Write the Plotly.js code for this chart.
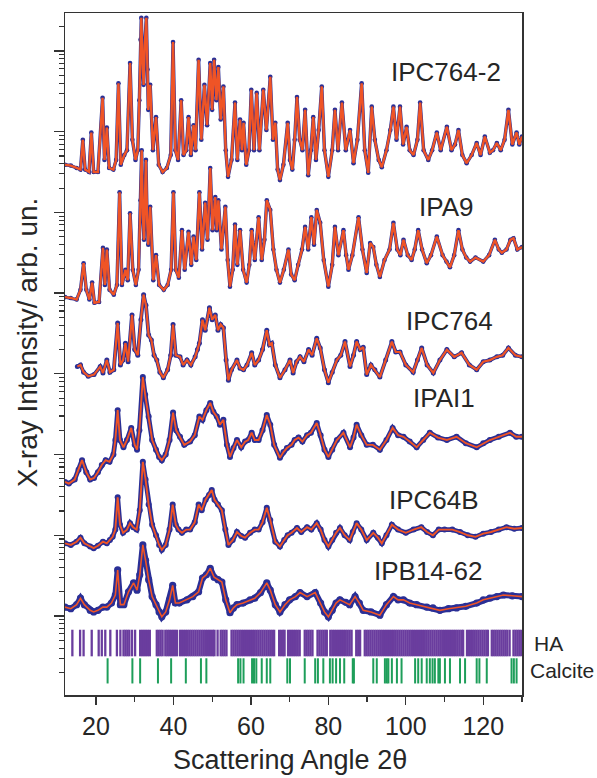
<!DOCTYPE html>
<html>
<head>
<meta charset="utf-8">
<script src="https://cdn.plot.ly/plotly-3.0.1.min.js"></script>
<style>html,body{margin:0;padding:0;background:#fff}#chart{width:597px;height:778px}</style>
</head>
<body>
<div id="chart"></div>
<script>
// Scattering angle 2θ (deg) and log10 intensity (arb. un.)
const ipc764_2_x = [12.0,13.5,15.0,16.0,16.6,17.2,18.2,18.8,19.4,20.5,21.7,22.2,22.8,23.4,24.5,25.2,25.8,26.4,27.3,28.0,28.8,29.4,30.2,30.8,31.2,31.5,31.7,32.0,32.3,32.6,33.0,33.3,33.5,34.0,34.7,35.5,36.2,37.2,38.3,39.3,39.9,40.5,41.2,42.0,42.6,43.3,43.9,44.5,45.2,45.7,46.5,47.2,48.0,48.7,49.5,50.0,50.5,51.1,51.6,52.2,52.9,53.5,54.1,55.0,55.9,56.5,57.2,57.7,58.1,58.8,59.5,60.1,60.8,61.5,62.2,63.2,64.0,65.0,65.7,66.3,66.9,67.5,68.4,69.5,70.1,70.7,71.3,71.9,72.6,73.3,74.0,74.8,75.5,76.1,76.8,77.5,78.3,79.0,80.0,81.0,81.7,82.5,83.5,84.5,85.6,86.5,87.5,88.6,89.4,90.3,91.2,92.0,93.0,93.8,95.0,96.0,96.8,97.6,98.5,99.3,100.2,101.0,102.0,103.0,103.7,104.6,105.8,106.8,108.0,109.0,110.6,111.8,112.7,113.6,114.6,115.7,117.0,118.3,119.3,120.4,121.7,122.5,123.5,124.5,125.5,126.5,127.5,128.6,129.3,130.0];
const ipc764_2_y = [5.59,5.58,5.55,5.53,5.90,5.53,5.50,5.99,5.50,5.50,6.42,5.65,6.05,5.55,5.53,5.65,6.60,5.59,5.71,5.77,6.85,5.90,5.65,5.77,6.39,7.14,7.41,6.89,6.58,7.07,7.41,6.77,6.27,6.58,5.77,6.18,5.59,5.50,5.55,5.71,7.11,5.77,5.65,6.39,5.71,5.77,6.18,5.71,6.08,5.77,6.89,5.90,6.58,6.08,6.85,6.27,6.89,6.39,6.80,6.15,6.56,5.77,5.44,5.65,6.36,5.65,6.15,5.77,6.11,5.59,5.77,6.52,5.77,6.48,5.77,6.52,6.02,6.68,5.90,6.11,5.53,5.40,5.59,6.11,5.65,5.53,5.90,6.43,5.90,5.77,6.27,5.46,5.77,6.18,5.65,6.02,6.56,5.77,5.44,5.77,6.27,5.77,6.36,5.77,6.02,5.61,5.90,6.60,5.77,5.49,6.31,5.90,5.65,5.56,5.77,6.02,6.31,5.90,6.31,5.84,6.06,5.77,5.71,5.90,6.36,5.77,5.65,5.77,5.99,5.77,6.06,5.77,5.84,6.02,5.71,5.61,5.71,5.86,5.71,5.94,5.74,5.77,5.86,5.77,5.90,6.27,5.84,5.99,5.84,5.94];

const ipa9_x = [12.0,13.5,15.0,16.0,16.8,17.5,18.3,19.0,19.6,20.8,21.8,22.3,22.8,23.5,24.6,25.4,26.1,26.7,27.6,28.2,28.8,29.5,30.3,31.0,31.5,31.8,32.1,32.4,32.7,32.9,33.2,33.5,34.0,34.8,35.5,36.3,37.5,38.5,39.4,40.0,40.6,41.4,42.2,42.9,43.9,44.6,45.2,45.9,46.7,47.4,48.2,48.8,49.5,50.1,50.8,51.2,51.6,52.4,53.4,54.0,54.6,55.3,55.9,56.5,57.2,58.0,58.9,59.6,60.2,61.0,62.0,62.8,63.5,64.1,65.0,65.8,66.6,67.5,68.5,69.7,70.4,71.3,72.2,73.2,74.0,74.8,75.6,76.3,77.0,77.9,78.8,80.0,81.0,81.7,82.6,83.9,84.6,85.2,86.2,87.8,88.8,89.9,90.8,91.6,92.4,93.3,94.5,95.8,96.8,97.8,98.6,99.4,100.5,101.5,102.3,103.2,104.2,105.4,106.5,108.0,109.5,110.5,111.4,112.5,113.6,114.6,115.6,116.6,118.0,120.0,121.5,123.0,124.0,124.8,126.0,127.0,127.8,128.8,130.0];
const ipa9_y = [3.95,3.94,3.92,4.04,4.37,4.04,3.92,4.13,3.88,3.89,4.56,4.10,4.54,4.04,3.98,4.10,5.25,4.10,4.29,4.16,4.99,4.29,4.10,4.29,5.15,5.77,4.97,4.66,5.27,5.65,4.91,4.60,5.07,4.16,4.47,4.10,4.04,4.10,4.29,5.25,4.29,4.19,4.78,4.29,4.76,4.35,4.70,4.41,5.25,4.54,5.12,4.66,5.55,4.78,5.19,4.78,5.15,4.54,5.07,4.41,4.08,4.29,4.85,4.35,4.78,4.29,4.13,4.35,4.78,4.41,4.94,4.41,4.66,5.15,5.03,4.54,4.29,4.13,4.29,4.54,4.23,4.16,4.35,4.54,4.82,4.54,4.94,4.60,5.03,4.87,4.41,4.08,4.35,4.82,4.47,4.78,4.47,4.29,4.47,4.94,4.54,4.25,4.62,4.57,4.35,4.20,4.41,4.54,4.87,4.54,4.47,4.66,4.47,4.41,4.54,4.78,4.54,4.37,4.47,4.70,4.47,4.39,4.32,4.47,4.78,4.54,4.44,4.39,4.44,4.39,4.47,4.66,4.54,4.50,4.54,4.66,4.68,4.54,4.57];

const ipc764_x = [15.2,16.0,16.8,18.0,19.5,21.1,21.8,22.8,23.6,24.6,25.6,26.3,27.0,27.6,28.3,29.3,30.0,30.8,31.6,32.3,32.9,33.6,34.3,35.0,35.7,36.5,37.4,38.5,39.3,39.9,40.6,41.7,42.5,43.5,44.5,45.6,46.2,46.7,47.5,48.2,49.3,50.0,50.8,51.5,52.2,52.9,53.6,54.2,55.0,56.4,57.2,58.1,59.0,60.2,61.0,62.0,63.0,64.1,64.8,65.4,66.3,67.5,68.8,70.1,70.9,71.8,72.7,73.7,74.9,75.8,77.0,77.9,79.0,80.0,81.0,82.2,83.2,84.3,85.6,86.5,87.3,88.2,89.0,89.9,91.0,92.0,93.3,94.8,96.4,97.4,98.5,100.0,101.9,103.0,104.1,105.5,107.1,108.8,110.6,112.5,114.4,116.4,118.3,120.0,121.7,123.5,125.0,126.5,128.3,130.0];
const ipc764_y = [3.09,3.11,3.02,2.97,2.99,3.09,3.01,3.17,3.02,3.05,3.63,3.11,3.17,3.38,3.15,3.73,3.30,3.23,3.67,3.98,3.85,3.48,3.42,3.23,3.17,3.02,2.95,3.05,3.23,3.61,3.23,3.21,3.11,3.17,3.11,3.21,3.30,3.38,3.67,3.54,3.82,3.67,3.73,3.54,3.61,3.57,3.17,2.92,3.05,3.17,3.07,3.05,3.11,3.26,3.11,3.17,3.30,3.54,3.36,3.38,3.11,2.95,3.05,3.17,3.01,3.15,3.21,3.15,3.30,3.23,3.44,3.32,3.05,2.89,3.02,3.17,3.23,3.40,3.09,3.23,3.40,3.30,3.33,2.99,3.11,3.05,2.96,3.17,3.40,3.27,3.27,3.11,3.02,3.17,3.32,3.11,3.01,3.17,3.30,3.21,3.26,3.11,3.05,3.15,3.17,3.21,3.23,3.32,3.23,3.21];

const ipai1_x = [12.0,13.0,14.5,15.5,16.4,17.5,18.5,19.5,20.5,21.5,22.5,23.5,24.5,25.0,25.6,26.2,27.1,28.0,29.1,30.0,30.6,31.2,32.1,32.7,33.6,34.5,35.5,36.3,37.0,38.0,39.0,39.9,40.7,41.7,42.8,44.3,45.5,46.7,47.5,48.5,49.5,50.3,51.2,52.0,52.9,53.8,54.6,55.5,56.4,57.5,58.5,59.3,60.2,61.0,62.0,63.0,64.1,65.0,66.0,67.5,68.4,69.3,70.5,71.3,72.3,73.3,74.5,75.5,77.0,78.0,79.0,80.0,81.0,82.2,83.9,85.6,86.5,87.3,88.5,89.9,91.5,93.3,95.0,96.6,98.0,99.4,101.0,102.8,104.5,106.2,108.3,110.6,113.1,115.5,118.3,120.0,121.7,124.0,126.9,128.5,130.0];
const ipai1_y = [1.66,1.64,1.69,1.81,1.93,1.78,1.69,1.71,1.78,1.87,1.93,1.91,2.00,2.18,2.55,2.18,2.09,2.18,2.33,2.12,2.06,2.30,2.96,2.74,2.47,2.18,2.06,1.97,1.93,2.00,2.18,2.52,2.30,2.22,2.12,2.16,2.24,2.47,2.43,2.55,2.64,2.53,2.47,2.37,2.43,2.12,1.97,2.08,2.18,2.09,2.16,2.18,2.27,2.18,2.18,2.30,2.49,2.37,2.12,1.96,2.03,2.08,2.12,2.18,2.21,2.16,2.24,2.27,2.39,2.24,2.06,1.97,2.06,2.18,2.27,2.09,2.21,2.37,2.24,2.12,2.12,2.06,2.18,2.33,2.24,2.22,2.16,2.09,2.18,2.27,2.21,2.18,2.22,2.14,2.09,2.14,2.18,2.22,2.27,2.22,2.22];

const ipc64b_x = [12.0,13.5,15.0,16.0,17.0,18.5,19.4,20.5,21.8,22.8,23.6,24.3,25.0,25.6,26.2,27.0,28.0,28.8,29.6,30.5,31.3,32.1,32.8,33.6,34.5,35.5,36.3,37.0,38.0,39.0,39.8,40.6,41.3,42.2,43.3,44.3,45.5,46.5,47.3,48.3,49.2,49.9,50.6,51.5,52.5,53.4,54.2,55.3,56.4,57.5,58.5,59.8,61.0,62.0,63.0,64.1,65.0,66.3,67.5,68.6,69.5,70.5,71.9,73.0,74.5,75.6,77.0,78.0,79.0,80.0,81.0,82.0,83.0,84.2,85.5,86.3,87.3,88.5,89.9,91.6,92.8,93.8,95.0,96.4,98.0,100.0,102.0,104.0,105.5,107.0,108.5,110.0,112.0,114.0,116.0,118.0,120.0,122.0,124.0,126.0,128.0,130.0];
const ipc64b_y = [0.90,0.88,0.92,0.97,0.90,0.86,0.84,0.87,0.92,0.90,0.94,0.98,1.07,1.47,1.13,1.03,1.07,1.15,1.10,1.07,1.31,1.91,1.69,1.38,1.13,1.00,0.88,0.82,0.88,1.07,1.38,1.13,1.07,1.03,1.07,1.07,1.16,1.38,1.31,1.44,1.50,1.56,1.44,1.38,1.31,1.07,0.88,0.94,1.04,0.99,0.97,1.03,1.07,1.07,1.16,1.34,1.19,0.92,0.86,0.94,1.00,1.03,1.09,1.04,1.10,1.07,1.15,1.07,0.94,0.86,0.94,1.03,1.09,1.00,0.94,1.04,1.15,1.07,0.94,1.03,0.97,0.90,1.00,1.13,1.07,1.03,1.07,1.10,1.04,1.00,1.07,1.07,1.07,1.04,1.00,0.98,1.02,1.04,1.07,1.10,1.08,1.09];

const ipb14_62_x = [12.0,13.5,15.0,16.0,17.0,18.5,19.4,20.5,21.8,22.8,24.0,25.0,25.6,26.3,27.2,28.4,29.7,30.6,31.3,32.1,32.8,33.6,34.5,35.5,36.3,37.0,38.0,39.0,39.8,40.5,41.5,43.5,45.0,46.5,47.5,48.5,49.5,50.5,51.5,52.5,53.5,54.6,55.5,56.4,58.0,59.8,61.0,62.5,64.1,65.0,66.3,67.5,68.8,70.0,71.5,72.7,74.5,76.6,78.0,79.0,80.0,81.0,82.0,83.0,84.5,85.5,86.9,88.0,89.0,91.0,93.3,95.0,96.8,98.0,99.4,101.0,102.8,105.4,107.0,108.8,111.0,113.1,115.5,118.3,120.0,121.7,123.5,125.2,127.5,130.0];
const ipb14_62_y = [0.11,0.09,0.14,0.22,0.14,0.07,0.05,0.07,0.11,0.11,0.16,0.26,0.57,0.14,0.14,0.30,0.41,0.32,0.51,0.88,0.69,0.45,0.24,0.14,0.05,-0.01,0.05,0.20,0.38,0.16,0.16,0.20,0.24,0.30,0.47,0.51,0.59,0.48,0.45,0.42,0.20,0.04,0.10,0.14,0.16,0.20,0.22,0.29,0.41,0.32,0.14,0.05,0.14,0.20,0.24,0.29,0.24,0.29,0.16,0.05,-0.01,0.07,0.16,0.20,0.17,0.14,0.24,0.16,0.07,0.05,0.01,0.14,0.24,0.20,0.20,0.16,0.14,0.11,0.10,0.07,0.09,0.10,0.12,0.16,0.20,0.22,0.24,0.26,0.25,0.24];

const sampleNames = ['IPC764-2','IPA9','IPC764','IPAI1','IPC64B','IPB14-62'];

// reflection positions (2θ)
const haPeaks = [13.9,15.9,16.8,18.9,20.7,21.5,22.4,23.7,25.4,26.3,27.1,27.6,28.1,28.6,29.3,30.1,31.4,31.9,32.4,32.9,33.4,33.9,35.7,36.2,36.7,37.2,37.9,38.4,38.9,39.4,39.9,40.4,40.9,41.7,42.2,42.7,43.2,43.7,44.2,44.7,45.2,45.7,46.2,46.7,47.2,47.7,48.2,48.7,49.2,49.7,50.2,50.6,51.4,52.2,52.7,53.2,53.7,55.0,55.5,56.0,56.5,57.0,57.5,58.0,58.5,59.0,59.5,60.0,60.5,61.0,61.5,62.0,62.5,63.0,63.5,64.0,64.5,65.0,65.5,66.0,67.3,67.8,68.3,68.7,69.6,70.1,70.6,71.1,71.6,72.1,72.6,73.9,74.4,74.9,75.4,75.9,77.2,77.7,78.2,78.7,79.2,79.6,80.5,81.0,81.5,82.0,82.5,83.0,83.5,84.0,84.5,85.0,85.5,86.0,87.2,87.7,88.2,89.4,89.9,90.4,90.9,91.4,91.9,92.4,92.9,93.4,93.9,94.4,94.9,95.4,95.9,96.4,96.9,97.4,97.9,98.4,98.9,99.4,99.9,100.4,100.9,101.4,101.9,102.4,102.9,103.4,103.9,104.4,104.9,105.4,105.9,106.4,106.9,107.4,107.9,108.4,108.9,109.4,109.9,110.4,110.9,111.4,111.9,112.4,112.9,113.4,113.9,114.4,114.8,115.8,116.3,116.8,117.3,117.8,118.3,118.8,119.3,119.8,120.3,120.8,121.2,122.2,122.7,123.2,123.7,124.2,124.7,125.2,125.7,126.2,126.8,127.8,128.3,128.8,129.3,129.8];
const calcitePeaks = [23.0,29.4,31.4,36.0,39.4,43.2,47.1,48.5,56.7,57.3,58.1,60.3,60.8,61.4,62.8,64.1,65.0,69.4,70.1,73.9,76.6,77.3,78.7,80.4,81.1,82.0,83.0,84.1,86.3,86.6,91.6,92.5,94.6,95.1,95.5,96.4,97.7,98.9,102.4,103.2,104.1,105.4,106.2,106.9,107.5,108.4,108.8,110.1,111.4,114.0,115.3,118.3,119.0,120.9,127.3,127.9,128.6];
const phaseNames = ['HA','Calcite'];
const xTicks = [20,40,60,80,100,120];

const FONT = 'Liberation Sans, Arial, Helvetica, sans-serif';
const OBS = '#2a2f96', CALC = '#ef5426', HA = '#6a3d9e', CAL = '#1e9e5a', TXT = '#262626';

const series = [
  [ipc764_2_x, ipc764_2_y],[ipa9_x, ipa9_y],[ipc764_x, ipc764_y],
  [ipai1_x, ipai1_y],[ipc64b_x, ipc64b_y],[ipb14_62_x, ipb14_62_y]
];
const obsW = [3.4,3.4,3.8,4.8,4.8,6.0];
const calcW = [2.4,2.4,2.2,1.9,1.9,1.6];
const traces = [];
series.forEach(([x,y],i)=>{
  traces.push({x:x,y:y,type:'scatter',mode:'lines+markers',name:sampleNames[i]+' obs',
    line:{color:OBS,width:obsW[i]},marker:{color:OBS,size:obsW[i]+1.2},hoverinfo:'skip'});
  traces.push({x:x,y:y,type:'scatter',mode:'lines',name:sampleNames[i]+' calc',
    line:{color:CALC,width:calcW[i]},hoverinfo:'skip'});
});
const haLevel = -0.335, calLevel = -0.68;
traces.push({x:haPeaks,y:haPeaks.map(()=>haLevel),type:'scatter',mode:'markers',name:'HA',
  marker:{symbol:'line-ns',size:19,line:{color:HA,width:2.3}},hoverinfo:'skip'});
traces.push({x:calcitePeaks,y:calcitePeaks.map(()=>calLevel),type:'scatter',mode:'markers',name:'Calcite',
  marker:{symbol:'line-ns',size:18,line:{color:CAL,width:2}},hoverinfo:'skip'});

// log-style tick positions on the log10 intensity axis
const majorY = [0,1,2,3,4,5,6,7];
const minorY = [];
for (let n=-1;n<=7;n++) for (let k=2;k<=9;k++){ const v=n+Math.log10(k); if(v>-0.979 && v<7.47) minorY.push(v); }

const labelPos = [[110.4,6.74],[110.4,5.07],[111.2,3.66],[109.9,2.70],[107.3,1.44],[105.8,0.56]];
const annotations = sampleNames.map((t,i)=>({x:labelPos[i][0],y:labelPos[i][1],xref:'x',yref:'y',text:t,showarrow:false,
  font:{family:FONT,size:26,color:TXT},xanchor:'center',yanchor:'middle'}));
annotations.push({x:1.022,y:0.0762,xref:'paper',yref:'paper',text:phaseNames[0],showarrow:false,xanchor:'left',yanchor:'middle',font:{family:FONT,size:21,color:TXT}});
annotations.push({x:1.013,y:0.0352,xref:'paper',yref:'paper',text:phaseNames[1],showarrow:false,xanchor:'left',yanchor:'middle',font:{family:FONT,size:21,color:TXT}});
annotations.push({x:-0.083,y:0.516,xref:'paper',yref:'paper',text:'X-ray Intensity/ arb. un.',textangle:-90,showarrow:false,xanchor:'center',yanchor:'middle',font:{family:FONT,size:28,color:TXT}});
annotations.push({x:0.492,y:-0.0955,xref:'paper',yref:'paper',text:'Scattering Angle 2θ',showarrow:false,xanchor:'center',yanchor:'middle',font:{family:FONT,size:27,color:TXT}});

const layout = {
  width:597,height:778,margin:{l:65,r:75,t:13,b:83},
  paper_bgcolor:'#fff',plot_bgcolor:'#fff',showlegend:false,
  xaxis:{range:[12,130],tickmode:'array',tickvals:xTicks,ticks:'outside',ticklen:8,tickwidth:1.3,tickcolor:'#333',
    showline:true,linecolor:'#333',linewidth:1.5,mirror:true,showgrid:false,zeroline:false,
    tickfont:{family:FONT,size:25,color:TXT},
    minor:{tickmode:'linear',tick0:0,dtick:10,ticks:'outside',ticklen:5,tickcolor:'#333',tickwidth:1.2,showgrid:false}},
  yaxis:{range:[-0.979,7.47],tickmode:'array',tickvals:majorY,showticklabels:false,ticks:'outside',ticklen:10,tickwidth:1.3,tickcolor:'#333',
    showline:true,linecolor:'#333',linewidth:1.5,mirror:true,showgrid:false,zeroline:false,
    minor:{tickmode:'array',tickvals:minorY,ticks:'outside',ticklen:5,tickcolor:'#333',tickwidth:1.1,showgrid:false}},
  annotations:annotations
};
Plotly.newPlot('chart',traces,layout,{staticPlot:true,displayModeBar:false});
</script>
</body>
</html>
